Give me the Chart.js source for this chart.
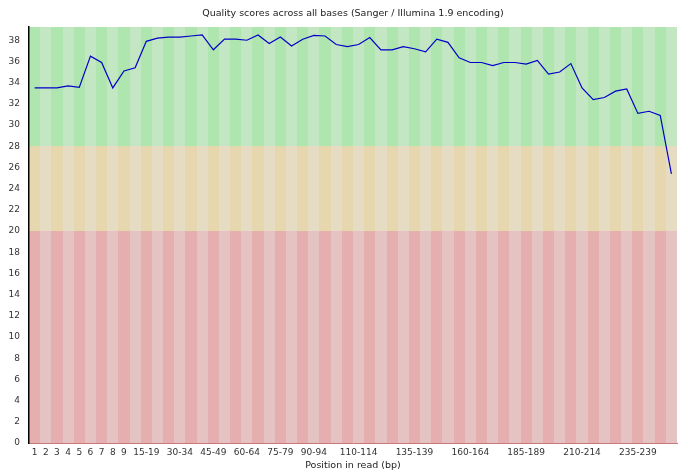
<!DOCTYPE html>
<html>
<head>
<meta charset="utf-8">
<script src="https://cdn.jsdelivr.net/npm/chart.js@4/dist/chart.umd.min.js"></script>
<style>
  html, body { margin: 0; padding: 0; background: #fff; }
  canvas { display: block; }
</style>
</head>
<body>
<canvas id="myChart" width="688" height="472"></canvas>
<script>
// base positions (grouped after 9, as in the FastQC report)
const positions = ['1', '2', '3', '4', '5', '6', '7', '8', '9',
  '10-14', '15-19', '20-24', '25-29', '30-34', '35-39', '40-44', '45-49',
  '50-54', '55-59', '60-64', '65-69', '70-74', '75-79', '80-84', '85-89',
  '90-94', '95-99', '100-104', '105-109', '110-114', '115-119', '120-124',
  '125-129', '130-134', '135-139', '140-144', '145-149', '150-154',
  '155-159', '160-164', '165-169', '170-174', '175-179', '180-184',
  '185-189', '190-194', '195-199', '200-204', '205-209', '210-214',
  '215-219', '220-224', '225-229', '230-234', '235-239', '240-244',
  '245-249', '250-251'];

// labels that are actually printed under the axis
const shownLabels = ['1', '2', '3', '4', '5', '6', '7', '8', '9',
  '15-19', '30-34', '45-49', '60-64', '75-79', '90-94', '110-114',
  '135-139', '160-164', '185-189', '210-214', '235-239'];

// mean quality per position
const meanQuality = [33.5, 33.5, 33.5, 33.7, 33.55, 36.5, 35.9, 33.5, 35.1,
  35.4, 37.9, 38.2, 38.3, 38.3, 38.4, 38.5, 37.1, 38.1, 38.1, 38.0,
  38.5, 37.7, 38.3, 37.45, 38.1, 38.45, 38.4, 37.6, 37.4, 37.6,
  38.25, 37.1, 37.1, 37.4, 37.2, 36.9, 38.1, 37.8, 36.35, 35.9,
  35.9, 35.6, 35.9, 35.9, 35.75, 36.1, 34.8, 35.0, 35.8, 33.5,
  32.4, 32.6, 33.2, 33.4, 31.1, 31.3, 30.9, 25.4];

const yTicks = [0, 2, 4, 6, 8, 10, 12, 14, 16, 18, 20, 22, 24, 26, 28, 30, 32, 34, 36, 38];
const yMax = 39.25;
const goodFrom = 28;
const okFrom = 20;

const fontFamily = '"DejaVu Sans", sans-serif';

// alternating green / orange / red background bands
const bandPlugin = {
  id: 'bands',
  beforeDraw(chart) {
    const ctx = chart.ctx;
    const x = chart.scales.x;
    const y = chart.scales.y;
    const area = chart.chartArea;
    const step = (area.right - area.left) / positions.length;
    const top = Math.round(area.top);
    const bottom = Math.round(area.bottom);
    const yGood = Math.round(y.getPixelForValue(goodFrom));
    const yOk = Math.round(y.getPixelForValue(okFrom));
    ctx.save();
    for (let i = 0; i < positions.length; i++) {
      const c = x.getPixelForValue(i);
      const left = Math.round(c - step / 2);
      const w = Math.round(c + step / 2) - left;
      const dark = i % 2 === 0;
      ctx.fillStyle = dark ? 'rgb(175,230,175)' : 'rgb(195,230,195)';
      ctx.fillRect(left, top, w, yGood - top);
      ctx.fillStyle = dark ? 'rgb(230,215,175)' : 'rgb(230,220,195)';
      ctx.fillRect(left, yGood, w, yOk - yGood);
      ctx.fillStyle = dark ? 'rgb(230,175,175)' : 'rgb(230,195,195)';
      ctx.fillRect(left, yOk, w, bottom - yOk);
    }
    ctx.restore();
  },
  afterDraw(chart) {
    const ctx = chart.ctx;
    const area = chart.chartArea;
    ctx.save();
    ctx.fillStyle = '#222';
    ctx.font = '9.5px ' + fontFamily;
    ctx.textAlign = 'center';
    ctx.textBaseline = 'middle';
    ctx.fillText('Quality scores across all bases (Sanger / Illumina 1.9 encoding)',
      (area.left + area.right) / 2, 14);
    ctx.restore();
  }
};

new Chart(document.getElementById('myChart'), {
  type: 'line',
  data: {
    labels: positions,
    datasets: [{
      data: meanQuality,
      borderColor: 'rgb(0,0,200)',
      borderWidth: 1.2,
      pointRadius: 0,
      tension: 0,
      fill: false
    }]
  },
  options: {
    responsive: false,
    animation: false,
    devicePixelRatio: 1,
    layout: { padding: { top: 27, right: 11, left: 0, bottom: 0 } },
    plugins: {
      legend: { display: false },
      tooltip: { enabled: false },
      title: { display: false }
    },
    scales: {
      x: {
        offset: true,
        grid: { display: false, drawTicks: false, offset: true },
        border: { display: true, color: 'rgb(200,120,120)', width: 1 },
        ticks: {
          autoSkip: false,
          maxRotation: 0,
          padding: 4,
          color: '#333',
          font: { family: fontFamily, size: 9 },
          callback: function (v) {
            const lab = positions[v];
            return shownLabels.includes(lab) ? lab : '';
          }
        },
        title: {
          display: true,
          text: 'Position in read (bp)',
          color: '#222',
          font: { family: fontFamily, size: 9.5 },
          padding: { top: 0, bottom: 1 }
        },
        afterFit: function (scale) { scale.height = 29; }
      },
      y: {
        min: 0,
        max: yMax,
        grid: { display: false, drawTicks: false },
        border: { display: true, color: '#000', width: 1.5 },
        afterBuildTicks: function (scale) {
          scale.ticks = yTicks.map(v => ({ value: v }));
        },
        ticks: {
          padding: 9,
          color: '#333',
          font: { family: fontFamily, size: 9 }
        },
        afterFit: function (scale) { scale.width = 29; }
      }
    }
  },
  plugins: [bandPlugin]
});
</script>
</body>
</html>
